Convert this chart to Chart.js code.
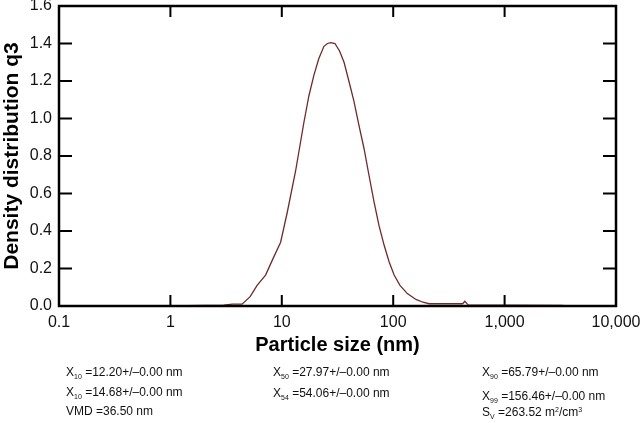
<!DOCTYPE html>
<html>
<head>
<meta charset="utf-8">
<script src="https://cdn.jsdelivr.net/npm/chart.js@4.4.1/dist/chart.umd.min.js"></script>
<style>
    body { margin: 0; background: #ffffff; }
    #wrap { position: relative; width: 640px; height: 423px; }
    #chart { position: absolute; left: 0; top: 0; }
    .note {
        position: absolute;
        font-family: 'Liberation Sans', Arial, sans-serif;
        font-size: 12px;
        color: #111111;
        white-space: nowrap;
        line-height: 13px;
    }
    .note sub { font-size: 7px; vertical-align: -3px; line-height: 0; }
    .note sup { font-size: 7px; vertical-align: 4px; line-height: 0; }
</style>
</head>
<body>
<div id="wrap">
    <canvas id="chart" width="640" height="423"></canvas>
    <div class="note" style="left:66px; top:366px;">X<sub>10</sub> =12.20+/&ndash;0.00 nm</div>
    <div class="note" style="left:66px; top:386px;">X<sub>10</sub> =14.68+/&ndash;0.00 nm</div>
    <div class="note" style="left:66px; top:405px;">VMD =36.50 nm</div>
    <div class="note" style="left:273px; top:366px;">X<sub>50</sub> =27.97+/&ndash;0.00 nm</div>
    <div class="note" style="left:273px; top:387px;">X<sub>54</sub> =54.06+/&ndash;0.00 nm</div>
    <div class="note" style="left:482px; top:366px;">X<sub>90</sub> =65.79+/&ndash;0.00 nm</div>
    <div class="note" style="left:482px; top:390px;">X<sub>99</sub> =156.46+/&ndash;0.00 nm</div>
    <div class="note" style="left:482px; top:406px;">S<sub>V</sub> =263.52 m<sup>2</sup>/cm<sup>3</sup></div>
</div>
<script>
// particle size (nm) and density distribution q3
const sizes = [1, 2, 3, 3.6, 4.4, 5.2, 6.0, 7.15, 8.3, 9.76, 11.2, 13.3, 15.8, 17.5, 19.4,
               21.5, 23.9, 25.7, 27.5, 30.0, 33.0, 36.2, 40.0, 44.5, 49.0, 54.7, 60.5,
               67.3, 74.5, 82.8, 92, 101.9, 115, 134, 160, 185, 210, 300, 420, 440, 470,
               1000, 3300, 3500, 10000];
const q3 = [0, 0.003, 0.005, 0.01, 0.01, 0.05, 0.11, 0.165, 0.25, 0.34, 0.50, 0.72, 0.98, 1.12, 1.23,
            1.32, 1.385, 1.40, 1.405, 1.40, 1.36, 1.30, 1.20, 1.09, 0.97, 0.84, 0.70,
            0.555, 0.43, 0.325, 0.235, 0.165, 0.11, 0.066, 0.035, 0.02, 0.012, 0.012, 0.012, 0.025, 0.006,
            0.004, 0.003, 0, 0];

const xTickValues = [0.1, 1, 10, 100, 1000, 10000];
const xTickLabels = ['0.1', '1', '10', '100', '1,000', '10,000'];
const yTickValues = [0, 0.2, 0.4, 0.6, 0.8, 1.0, 1.2, 1.4, 1.6];

const fontFamily = "'Liberation Sans', Arial, sans-serif";

const points = [];
for (let i = 0; i < sizes.length; i++) {
    points.push({ x: sizes[i], y: q3[i] });
}

// box around the plot with inward tick marks on all four sides
const frameTicks = {
    id: 'frameTicks',
    afterDatasetsDraw: function(chart) {
        const ctx = chart.ctx;
        const area = chart.chartArea;
        const xScale = chart.scales.x;
        const yScale = chart.scales.y;

        ctx.save();
        ctx.strokeStyle = '#000000';
        ctx.lineWidth = 2.5;
        ctx.strokeRect(area.left, area.top, area.right - area.left, area.bottom - area.top);

        ctx.lineWidth = 2;
        ctx.beginPath();
        for (let i = 1; i < xTickValues.length - 1; i++) {
            const px = xScale.getPixelForValue(xTickValues[i]);
            ctx.moveTo(px, area.bottom);
            ctx.lineTo(px, area.bottom - 11);
            ctx.moveTo(px, area.top);
            ctx.lineTo(px, area.top + 11);
        }
        for (let i = 1; i < yTickValues.length - 1; i++) {
            const py = yScale.getPixelForValue(yTickValues[i]);
            ctx.moveTo(area.left, py);
            ctx.lineTo(area.left + 13, py);
            ctx.moveTo(area.right, py);
            ctx.lineTo(area.right - 13, py);
        }
        ctx.stroke();
        ctx.restore();
    }
};

const ctx = document.getElementById('chart').getContext('2d');
const densityChart = new Chart(ctx, {
    type: 'line',
    data: {
        datasets: [{
            label: 'q3',
            data: points,
            borderColor: '#6e2b2b',
            borderWidth: 1.3,
            pointRadius: 0,
            tension: 0,
            fill: false
        }]
    },
    options: {
        responsive: false,
        animation: false,
        layout: {
            padding: { top: 6, right: 24, bottom: 66, left: 0 }
        },
        plugins: {
            legend: { display: false },
            tooltip: { enabled: false },
            title: { display: false }
        },
        scales: {
            x: {
                type: 'logarithmic',
                min: 0.1,
                max: 10000,
                afterBuildTicks: function(scale) {
                    scale.ticks = xTickValues.map(function(v) { return { value: v }; });
                },
                afterFit: function(scale) {
                    scale.height = 51;
                    scale.paddingLeft = 0;
                    scale.paddingRight = 0;
                },
                ticks: {
                    autoSkip: false,
                    maxRotation: 0,
                    padding: 7,
                    color: '#111111',
                    font: { family: fontFamily, size: 16 },
                    callback: function(value) {
                        const idx = xTickValues.indexOf(value);
                        return idx >= 0 ? xTickLabels[idx] : '';
                    }
                },
                grid: { display: false, drawTicks: false },
                border: { display: false },
                title: {
                    display: true,
                    text: 'Particle size (nm)',
                    color: '#000000',
                    padding: 0,
                    font: { family: fontFamily, size: 20, weight: 'bold' }
                }
            },
            y: {
                min: 0,
                max: 1.6,
                afterBuildTicks: function(scale) {
                    scale.ticks = yTickValues.map(function(v) { return { value: v }; });
                },
                afterFit: function(scale) {
                    scale.width = 59;
                    scale.paddingTop = 0;
                    scale.paddingBottom = 0;
                },
                ticks: {
                    padding: 7,
                    color: '#111111',
                    font: { family: fontFamily, size: 16 },
                    callback: function(value) {
                        return value.toFixed(1);
                    }
                },
                grid: { display: false, drawTicks: false },
                border: { display: false },
                title: {
                    display: true,
                    text: 'Density distribution q3',
                    color: '#000000',
                    padding: 0,
                    font: { family: fontFamily, size: 21, weight: 'bold' }
                }
            }
        }
    },
    plugins: [frameTicks]
});
</script>
</body>
</html>
